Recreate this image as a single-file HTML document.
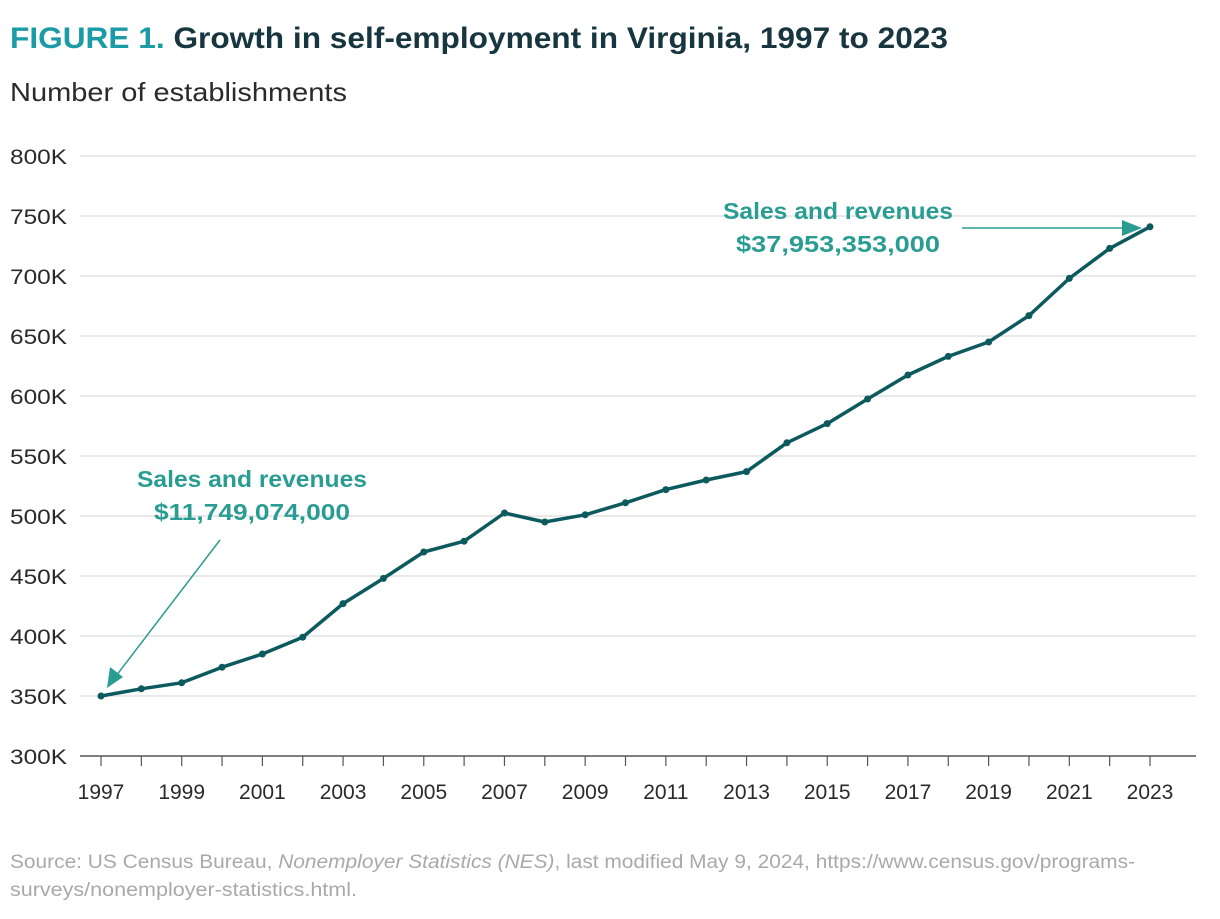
<!DOCTYPE html>
<html><head><meta charset="utf-8"><style>
body{margin:0;background:#fff;font-family:"Liberation Sans",sans-serif;}
svg text{font-family:"Liberation Sans",sans-serif;}
</style></head><body>
<svg width="1220" height="914" id="c">
<text x="10" y="48" font-size="30" font-weight="bold" textLength="938" lengthAdjust="spacingAndGlyphs"><tspan fill="#1a9ba6">FIGURE 1.</tspan><tspan fill="#17363f"> Growth in self-employment in Virginia, 1997 to 2023</tspan></text>
<text x="10" y="101" font-size="26" fill="#2a2a2a" textLength="337" lengthAdjust="spacingAndGlyphs">Number of establishments</text>
<g id="grid"></g><g id="xt"></g><g id="line"></g>
<text x="838" y="219" font-size="23" font-weight="bold" fill="#2a9d92" text-anchor="middle" textLength="230" lengthAdjust="spacingAndGlyphs">Sales and revenues</text>
<text x="838" y="252" font-size="23" font-weight="bold" fill="#2a9d92" text-anchor="middle" textLength="204" lengthAdjust="spacingAndGlyphs">$37,953,353,000</text>
<text x="252" y="487" font-size="23" font-weight="bold" fill="#2a9d92" text-anchor="middle" textLength="230" lengthAdjust="spacingAndGlyphs">Sales and revenues</text>
<text x="252" y="520" font-size="23" font-weight="bold" fill="#2a9d92" text-anchor="middle" textLength="196" lengthAdjust="spacingAndGlyphs">$11,749,074,000</text>
<line x1="962" y1="228" x2="1128" y2="228" stroke="#2a9d92" stroke-width="1.5"/>
<polygon points="1142,228 1122,220 1122,236" fill="#2a9d92"/>
<line x1="220" y1="540" x2="116" y2="676" stroke="#2a9d92" stroke-width="1.5"/>
<polygon points="107,688 110,667 123,677" fill="#2a9d92"/>
<text x="10" y="868" font-size="19" fill="#a9a9a9" textLength="1125" lengthAdjust="spacingAndGlyphs">Source: US Census Bureau, <tspan font-style="italic">Nonemployer Statistics (NES)</tspan>, last modified May 9, 2024, https://www.census.gov/programs-</text>
<text x="10" y="896" font-size="19" fill="#a9a9a9" textLength="347" lengthAdjust="spacingAndGlyphs">surveys/nonemployer-statistics.html.</text>
</svg>
<script>
const years=[1997,1998,1999,2000,2001,2002,2003,2004,2005,2006,2007,2008,2009,2010,2011,2012,2013,2014,2015,2016,2017,2018,2019,2020,2021,2022,2023];
const values=[350,356,361,374,385,399,427,448,470,479,502.5,495,501,511,522,530,537,561,577,597.5,617.5,633,645,667,698,723,741];
const yTicks=[300,350,400,450,500,550,600,650,700,750,800];
const NS="http://www.w3.org/2000/svg";
const X=y=>101+(y-1997)*(1150-101)/26;
const Y=v=>756-(v-300)*1.2;
function mk(t,a,p){const e=document.createElementNS(NS,t);for(const k in a)e.setAttribute(k,a[k]);p.appendChild(e);return e;}
const g=document.getElementById('grid');
yTicks.forEach(v=>{
 const l=mk('line',{x1:80,x2:1196,y1:Y(v),y2:Y(v),stroke:v===300?'#555':'#dcdcdc','stroke-width':v===300?1.5:1.2},g);
 
 
 const t=mk('text',{x:10,y:Y(v)+8,'font-size':21,fill:'#2a2a2a',textLength:57,lengthAdjust:'spacingAndGlyphs'},g);t.textContent=v+'K';
 
 
});
const xt=document.getElementById('xt');
years.forEach((y,i)=>{
 const l=mk('line',{x1:X(y),x2:X(y),y1:756,y2:766,stroke:'#555','stroke-width':1.2},xt);
 
 
 if(i%2===0){const t=mk('text',{x:X(y),y:799,'font-size':21,fill:'#2a2a2a','text-anchor':'middle'},xt);t.textContent=y;
 
 }
});
const lg=document.getElementById('line');
const p=mk('polyline',{points:years.map((y,i)=>X(y)+','+Y(values[i])).join(' '),fill:'none',stroke:'#0d5a5e','stroke-width':3.5,'stroke-linejoin':'round'},lg);


years.forEach((y,i)=>{const c=mk('circle',{cx:X(y),cy:Y(values[i]),r:3.5,fill:'#0d5a5e'},lg);
 
 });
</script>
</body></html>
